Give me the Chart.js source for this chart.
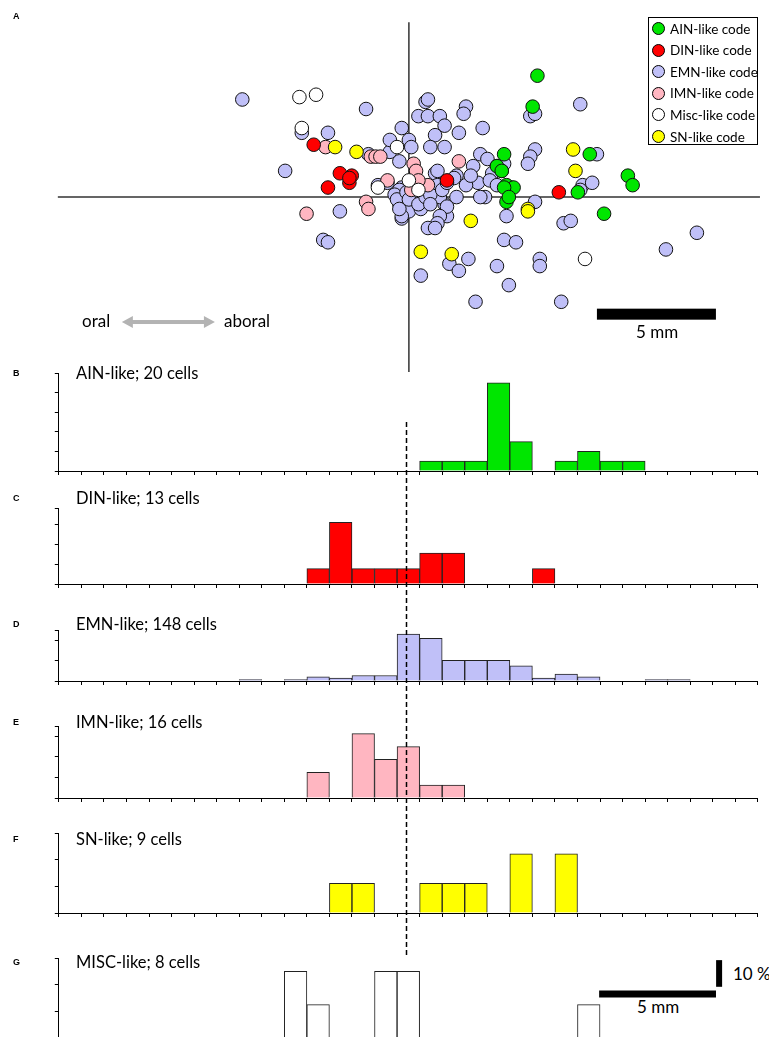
<!DOCTYPE html>
<html>
<head>
<meta charset="utf-8">
<title>Spatial distribution of codes</title>
<script src="https://cdn.jsdelivr.net/npm/chart.js@4.4.1/dist/chart.umd.min.js"></script>
<style>
  body { margin: 0; background: #fff; }
  #page { position: relative; width: 769px; height: 1037px; overflow: hidden; font-family: Lato, "Open Sans", sans-serif; color: #000; }
  #page canvas { position: absolute; left: 0; }
  .letter { position: absolute; left: 13px; font: bold 9px "Liberation Sans", Arial, sans-serif; line-height: 12px; }
  .title { position: absolute; left: 76px; font-size: 16.5px; line-height: 20px; white-space: nowrap; }
  .txt { position: absolute; font-size: 17px; line-height: 20px; white-space: nowrap; }
  #legend { position: absolute; left: 648px; top: 17px; width: 108px; height: 126px; border: 1.5px solid #000; background: #fff; }
  .entry { position: absolute; left: 3px; height: 18px; font-size: 13.5px; line-height: 18px; white-space: nowrap; display: flex; align-items: center; }
  .dot { width: 13px; height: 13px; border-radius: 50%; border: 1px solid #000; margin-right: 5px; box-sizing: border-box; }
</style>
</head>
<body>
<div id="page">
  <canvas id="scatter" width="769" height="372" style="top:0"></canvas>
  <div class="letter" style="top:10px">A</div>
  <div id="legend"></div>
  <div class="txt" style="left:82px;top:311px">oral</div>
  <div class="txt" style="left:224px;top:311px">aboral</div>
  <div class="txt" style="left:636px;top:322px">5 mm</div>
  <div class="txt" style="left:733px;top:964px">10 %</div>
  <div class="txt" style="left:637px;top:997px">5 mm</div>
</div>
<script>
// scatter: position of each cell relative to the body centre, mm (x: oral -> aboral)
const ainPts = [[5.4,5.1],[5.2,3.8],[4.0,1.8],[3.7,1.3],[7.6,1.8],[9.2,0.9],[9.4,0.5],[4.1,0.5],[4.4,0.4],[4.0,0.4],
  [7.1,0.2],[4.1,-0.2],[8.2,-0.7],[3.9,1.1],[4.2,0.0]];
const dinPts = [[-4.0,2.2],[-2.9,1.0],[-2.4,0.9],[-2.5,0.6],[-3.4,0.4],[6.3,0.2],[1.6,0.7],[-2.5,0.8]];
const emnPts = [[-7.0,4.1],[-1.8,3.7],[-4.5,2.7],[-3.4,2.7],[-5.2,1.1],[-1.3,0.5],[-2.9,-0.6],[-3.6,-1.8],[-3.4,-1.9],
  [-1.7,1.8],[-0.9,0.6],[-0.8,1.9],[-0.3,2.9],[-0.4,1.5],[-0.3,0.4],[-0.4,0.3],[-0.1,0.0],[-0.3,-0.3],[0.2,-0.3],
  [0.3,-0.1],[-0.3,-0.9],[-0.4,-0.3],[-0.6,0.1],[-0.2,-0.5],[0.0,-0.6],[0.5,-0.5],[-0.5,-0.1],[-0.8,2.4],
  [0.7,4.0],[0.8,4.1],[2.4,3.8],[2.3,3.5],[0.4,3.4],[0.8,3.4],[1.3,3.4],[5.1,3.4],[5.3,3.5],[7.2,3.9],[1.5,3.0],
  [1.1,2.6],[2.1,2.7],[3.1,2.9],[0.0,2.4],[0.1,2.1],[0.9,2.1],[1.5,2.1],[5.3,2.0],[5.1,1.7],[5.0,1.4],[7.9,1.8],
  [3.0,1.8],[3.3,1.6],[2.7,1.3],[3.7,1.3],[4.0,1.4],[1.1,1.0],[2.0,0.9],[2.9,0.6],[3.5,1.0],[3.9,1.1],[1.2,0.5],
  [1.2,1.1],[1.9,0.8],[4.3,0.4],[7.3,0.5],[7.7,0.6],[7.2,0.3],[2.0,0.0],[1.5,-0.3],[1.3,0.0],[3.2,0.0],[3.0,0.0],
  [5.3,-0.2],[1.6,-0.8],[1.6,-0.4],[1.3,-0.8],[1.2,-1.1],[4.1,-0.8],[6.5,-1.1],[6.8,-1.0],[0.8,-1.3],[1.1,-1.3],
  [4.0,-1.8],[4.5,-1.9],[12.1,-1.5],[10.8,-2.2],[1.7,-2.8],[2.5,-2.6],[2.1,-3.1],[3.7,-2.9],[5.5,-2.6],[5.5,-2.9],
  [0.5,-3.3],[4.2,-3.7],[2.8,-4.4],[6.4,-4.4],[-0.3,-0.8],[-0.1,0.2],[0.3,0.1],[0.0,-0.1],[-0.4,-0.5],[0.4,-0.3],
  [0.7,0.0],[0.9,0.1],[0.9,-0.3],[1.4,0.3],[1.6,0.6],[2.4,0.5],[2.6,0.9],[3.4,0.7],[3.7,0.5]];
const imnPts = [[-3.5,2.1],[-1.6,1.7],[-1.4,1.7],[-1.2,1.7],[-0.9,0.7],[-1.8,-0.2],[-1.7,-0.5],[-4.3,-0.7],[0.2,1.4],
  [0.3,1.1],[2.1,1.5],[0.8,0.5],[0.1,0.3],[0.4,0.7]];
const miscPts = [[-4.6,4.2],[-3.9,4.3],[-4.5,2.9],[-0.5,2.1],[-1.3,0.4],[0.0,0.7],[0.4,0.3],[7.4,-2.6]];
const snPts = [[-3.1,2.1],[-2.2,1.9],[6.9,2.0],[7.0,1.1],[5.0,-0.5],[5.0,-0.6],[2.6,-1.0],[0.5,-2.3],[1.8,-2.4]];

// histograms: % of cells per oral-aboral bin
const binIndex = Array.from({ length: 31 }, (_, i) => i);
const histNames = ["AIN", "DIN", "EMN", "IMN", "SN", "MISC"];
const cellCounts = [20, 13, 148, 16, 9, 8];
const ainPct  = [0,0,0,0,0,0,0,0,0,0,0,0,0,0,0,0,5,5,5,45,15,0,5,10,5,5,0,0,0,0,0];
const dinPct  = [0,0,0,0,0,0,0,0,0,0,0,7.7,30.8,7.7,7.7,7.7,15.4,15.4,0,0,0,7.7,0,0,0,0,0,0,0,0,0];
const emnPct  = [0,0,0,0,0,0,0,0,0.7,0,0.7,2.0,1.4,2.7,2.7,23.0,20.9,10.1,10.1,10.1,7.4,1.4,3.4,2.0,0,0,0.7,0.7,0,0,0];
const imnPct  = [0,0,0,0,0,0,0,0,0,0,0,12.5,0,31.3,18.8,25.0,6.3,6.3,0,0,0,0,0,0,0,0,0,0,0,0,0];
const snPct   = [0,0,0,0,0,0,0,0,0,0,0,0,11.1,11.1,0,0,11.1,11.1,11.1,0,22.2,0,22.2,0,0,0,0,0,0,0,0];
const miscPct = [0,0,0,0,0,0,0,0,0,0,25,12.5,0,0,25,25,0,0,0,0,0,0,0,12.5,0,0,0,0,0,0,0];
const histValues = [ainPct, dinPct, emnPct, imnPct, snPct, miscPct];

const GREEN = "#00e600", RED = "#ff0000", LAVENDER = "#c0c0f8", PINK = "#ffb6c1", YELLOW = "#ffff00", WHITE = "#ffffff";
const histColors = [GREEN, RED, LAVENDER, PINK, YELLOW, WHITE];

const scatterSeries = [
  { label: "AIN-like code", pts: ainPts, color: GREEN, order: 5 },
  { label: "DIN-like code", pts: dinPts, color: RED, order: 3 },
  { label: "EMN-like code", pts: emnPts, color: LAVENDER, order: 6 },
  { label: "IMN-like code", pts: imnPts, color: PINK, order: 4 },
  { label: "Misc-like code", pts: miscPts, color: WHITE, order: 1 },
  { label: "SN-like code", pts: snPts, color: YELLOW, order: 2 },
];

const page = document.getElementById("page");
Chart.defaults.font.family = "Lato, 'Open Sans', sans-serif";

// legend
const legend = document.getElementById("legend");
scatterSeries.forEach((s, i) => {
  const row = document.createElement("div");
  row.className = "entry";
  row.style.top = (10.5 + i * 21.6 - 9) + "px";
  row.innerHTML = `<span class="dot" style="background:${s.color}"></span>${s.label}`;
  legend.appendChild(row);
});

// scatter axes cross, oral/aboral arrow and 5 mm bar
const crossPlugin = {
  id: "cross",
  beforeDatasetsDraw(chart) {
    const { ctx, chartArea, scales: { x, y } } = chart;
    ctx.save();
    ctx.strokeStyle = "#333";
    ctx.lineWidth = 1.5;
    ctx.beginPath();
    ctx.moveTo(x.getPixelForValue(-14.75), y.getPixelForValue(0));
    ctx.lineTo(x.getPixelForValue(14.75), y.getPixelForValue(0));
    ctx.moveTo(x.getPixelForValue(0), y.getPixelForValue(7.35));
    ctx.lineTo(x.getPixelForValue(0), chartArea.bottom);
    ctx.stroke();

    // double arrow
    const ay = y.getPixelForValue(-5.25), ax1 = x.getPixelForValue(-12.06), ax2 = x.getPixelForValue(-8.15);
    ctx.fillStyle = "#b3b3b3";
    ctx.fillRect(ax1 + 9, ay - 2, ax2 - ax1 - 18, 4);
    ctx.beginPath();
    ctx.moveTo(ax1, ay); ctx.lineTo(ax1 + 11, ay - 6); ctx.lineTo(ax1 + 11, ay + 6); ctx.closePath();
    ctx.moveTo(ax2, ay); ctx.lineTo(ax2 - 11, ay - 6); ctx.lineTo(ax2 - 11, ay + 6); ctx.closePath();
    ctx.fill();

    // scale bar 5 mm
    ctx.fillStyle = "#000";
    const by = y.getPixelForValue(-4.92);
    ctx.fillRect(x.getPixelForValue(7.9), by - 5.5, x.getPixelForValue(12.9) - x.getPixelForValue(7.9), 11);
    ctx.restore();
  }
};

new Chart(document.getElementById("scatter"), {
  type: "scatter",
  data: {
    datasets: scatterSeries.map((s) => ({
      label: s.label,
      data: s.pts.map(([x, y]) => ({ x, y })),
      backgroundColor: s.color,
      borderColor: "#111",
      borderWidth: 1,
      pointRadius: 6.8,
      order: s.order,
    })),
  },
  options: {
    responsive: false,
    animation: false,
    events: [],
    layout: { padding: 0, autoPadding: false },
    plugins: { legend: { display: false }, tooltip: { enabled: false } },
    scales: {
      x: { type: "linear", display: false, min: -17.18, max: 15.13 },
      y: { type: "linear", display: false, min: -7.35, max: 8.28 },
    },
  },
  plugins: [crossPlugin],
});

// histogram panels
const plotLeft = 58.8, plotRight = 757.9;
const dashBin = 14.9, dashTop = 422, dashBottom = 955;
const histLayout = [
  { letter: "B", top: 364, bottom: 490, axisTop: 373, base: 471, yMax: 50, titleY: 373 },
  { letter: "C", top: 490, bottom: 610, axisTop: 508, base: 584, yMax: 38, titleY: 498 },
  { letter: "D", top: 610, bottom: 712, axisTop: 630, base: 681, yMax: 25, titleY: 624 },
  { letter: "E", top: 712, bottom: 820, axisTop: 726, base: 798, yMax: 35, titleY: 722 },
  { letter: "F", top: 820, bottom: 945, axisTop: 833, base: 913, yMax: 30, titleY: 839 },
  { letter: "G", top: 945, bottom: 1042, axisTop: 958, base: 1038, yMax: 30, titleY: 962 },
];

const histPlugin = {
  id: "hist",
  afterDatasetsDraw(chart, args, opts) {
    const { ctx, scales: { x, y } } = chart;
    ctx.save();
    const s = Math.max(dashTop, opts.top), e = Math.min(dashBottom, opts.bottom);
    if (e > s) {
      const px = Math.round(x.getPixelForValue(dashBin)) + 0.5;
      ctx.strokeStyle = "#000";
      ctx.lineWidth = 1.5;
      ctx.setLineDash([5, 3]);
      ctx.lineDashOffset = s - dashTop;
      ctx.beginPath();
      ctx.moveTo(px, s - opts.top);
      ctx.lineTo(px, e - opts.top);
      ctx.stroke();
      ctx.setLineDash([]);
    }
    if (opts.scaleBars) {
      ctx.fillStyle = "#000";
      const hx1 = x.getPixelForValue(23.46), hx2 = x.getPixelForValue(23.46 + 5 / 0.965);
      const hy = y.getPixelForValue(16.5);
      ctx.fillRect(hx1, hy - 3.5, hx2 - hx1, 7);
      const vx = x.getPixelForValue(28.78);
      const vy1 = y.getPixelForValue(29.2), vy2 = y.getPixelForValue(19.2);
      ctx.fillRect(vx - 3, vy1, 6, vy2 - vy1);
    }
    ctx.restore();
  }
};

histNames.forEach((name, i) => {
  const L = histLayout[i];
  const cv = document.createElement("canvas");
  cv.width = 769;
  cv.height = L.bottom - L.top;
  cv.style.top = L.top + "px";
  page.appendChild(cv);

  const letter = document.createElement("div");
  letter.className = "letter";
  letter.style.top = (L.titleY - 6) + "px";
  letter.textContent = L.letter;
  page.appendChild(letter);

  const title = document.createElement("div");
  title.className = "title";
  title.style.top = (L.titleY - 10) + "px";
  title.textContent = `${name}-like; ${cellCounts[i]} cells`;
  page.appendChild(title);

  const yTicks = [];
  for (let v = 0; v < L.yMax; v += 10) yTicks.push(v);
  yTicks.push(L.yMax);

  new Chart(cv, {
    type: "bar",
    data: {
      labels: binIndex,
      datasets: [{
        data: histValues[i].map((v) => v || null),
        backgroundColor: histColors[i],
        borderColor: "#222",
        borderWidth: 1,
        categoryPercentage: 1,
        barPercentage: 1,
      }],
    },
    options: {
      responsive: false,
      animation: false,
      events: [],
      layout: { padding: { left: plotLeft, right: 769 - plotRight, top: L.axisTop - L.top, bottom: L.bottom - L.base }, autoPadding: false },
      plugins: {
        legend: { display: false },
        tooltip: { enabled: false },
        hist: { top: L.top, bottom: L.bottom, scaleBars: L.letter === "G" },
      },
      scales: {
        x: {
          offset: true,
          grid: { offset: true, drawOnChartArea: false, tickLength: 4, color: "#000", lineWidth: 1 },
          border: { color: "#000", width: 1 },
          ticks: { display: false, autoSkip: false },
          afterFit: (s) => { s.height = 0; },
        },
        y: {
          min: 0,
          max: L.yMax,
          grid: { drawOnChartArea: false, tickLength: 4, color: "#000", lineWidth: 1 },
          border: { color: "#000", width: 1 },
          ticks: { display: false },
          afterBuildTicks: (s) => { s.ticks = yTicks.map((value) => ({ value })); },
          afterFit: (s) => { s.width = 0; },
        },
      },
    },
    plugins: [histPlugin],
  });
});
</script>
</body>
</html>
